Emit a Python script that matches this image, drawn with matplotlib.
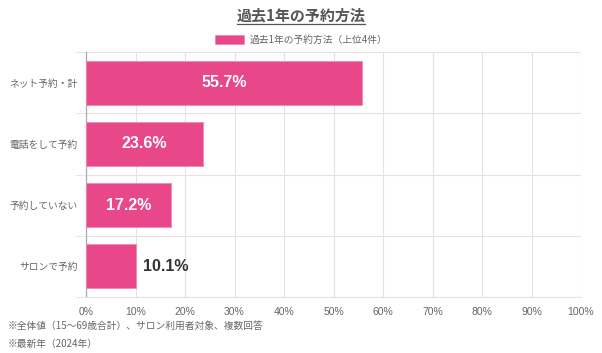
import matplotlib
matplotlib.use('Agg')
import matplotlib.pyplot as plt
from matplotlib.lines import Line2D
import numpy as np

plt.rcParams['font.family'] = ['Noto Sans CJK JP', 'DejaVu Sans']

# data
categories = ['ネット予約・計', '電話をして予約', '予約していない', 'サロンで予約']
values = [55.7, 23.6, 17.2, 10.1]
xticks = [0, 10, 20, 30, 40, 50, 60, 70, 80, 90, 100]
title = '過去1年の予約方法'
legend_label = '過去1年の予約方法（上位4件）'
notes = ['※全体値（15～69歳合計）、サロン利用者対象、複数回答', '※最新年（2024年）']

bar_color = '#E8478A'
grid_color = '#E3E3E3'
text_gray = '#666666'

fig = plt.figure(figsize=(6.02, 3.53), dpi=100)
ax = fig.add_axes([86/602, 1 - 297/353, 495/602, 245/353])

y = np.arange(len(categories))
bars = ax.barh(y, values, height=0.72, color=bar_color, edgecolor='#F08AB4', linewidth=0.6,
               label=legend_label, zorder=3)
ax.set_ylim(len(categories) - 0.5, -0.5)
ax.set_xlim(0, 100)

ax.set_xticks(xticks)
ax.set_xticklabels([f'{t}%' for t in xticks], fontsize=7.5, color=text_gray,
                   family='Liberation Sans')
ax.set_yticks(y)
ax.set_yticklabels(categories, fontsize=7, color=text_gray)
ax.set_yticks(np.arange(len(categories) + 1) - 0.5, minor=True)
ax.tick_params(axis='y', which='major', length=0, pad=6)
ax.tick_params(axis='y', which='minor', length=8, color=grid_color)
ax.tick_params(axis='x', length=0, pad=7)

ax.grid(axis='x', color=grid_color, linewidth=0.8, zorder=0)
ax.grid(axis='y', which='minor', color=grid_color, linewidth=0.8, zorder=0)
for s in ['top', 'right']:
    ax.spines[s].set_visible(False)
ax.spines['bottom'].set_color(grid_color)
ax.spines['left'].set_color('#AAAAAA')
ax.spines['left'].set_linewidth(0.9)

# value labels
for b, v in zip(bars, values):
    cy = b.get_y() + b.get_height() / 2
    if v > 15:
        ax.text(v / 2, cy, f'{v}%', ha='center', va='center', color='white',
                fontsize=11.5, fontweight='bold', family='Liberation Sans', zorder=4)
    else:
        ax.text(v + 1.5, cy, f'{v}%', ha='left', va='center', color='#333333',
                fontsize=11.5, fontweight='bold', family='Liberation Sans', zorder=4)

# title with underline
fig.text(0.5, 1 - 15/353, title, ha='center', va='center', fontsize=10.8,
         fontweight='bold', color='#555555')
fig.add_artist(Line2D([237/602, 365/602], [1 - 24/353, 1 - 24/353], color='#555555', linewidth=0.9))

# legend
leg = fig.legend(loc='center', bbox_to_anchor=(0.5, 1 - 40/353), frameon=False, fontsize=7,
                 handlelength=3.0, handleheight=1.0, handletextpad=0.6)
for t in leg.get_texts():
    t.set_color(text_gray)

# footnotes
fig.text(8/602, 1 - 326/353, notes[0], ha='left', va='center', fontsize=7, color=text_gray)
fig.text(8/602, 1 - 344/353, notes[1], ha='left', va='center', fontsize=7, color=text_gray)

fig.savefig('out.png', dpi=100)
